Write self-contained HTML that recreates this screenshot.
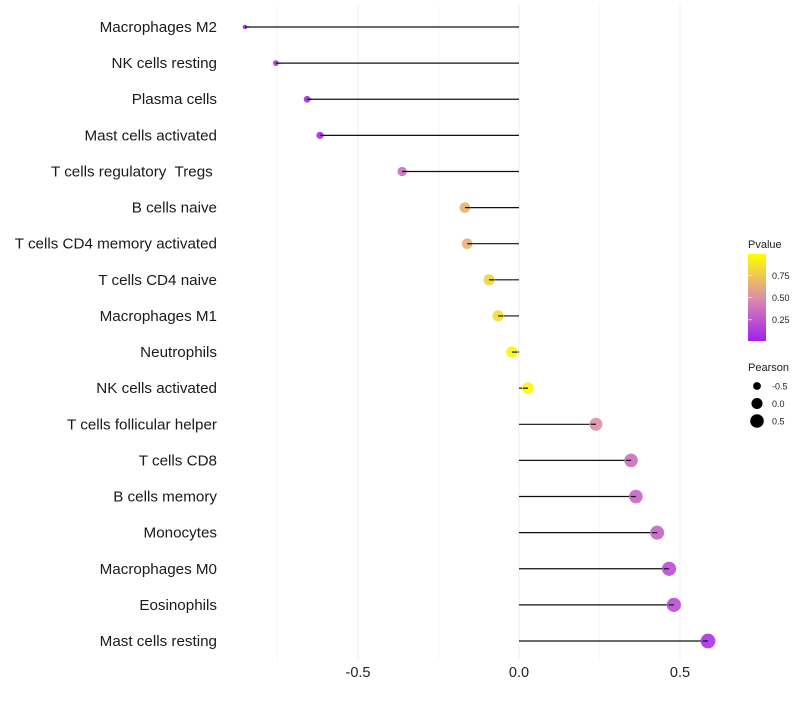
<!DOCTYPE html>
<html><head><meta charset="utf-8"><style>
body{margin:0;background:#fff;font-family:"Liberation Sans",sans-serif}
text{white-space:pre}
</style></head><body>
<svg id="c" width="800" height="700" xmlns="http://www.w3.org/2000/svg">
<defs><linearGradient id="g" x1="0" y1="1" x2="0" y2="0">
<stop offset="0" stop-color="#A020F0"/><stop offset="0.5" stop-color="#DD8FA8"/><stop offset="1" stop-color="#FFFF00"/></linearGradient></defs>
</svg>
<script>
const categories=["Macrophages M2","NK cells resting","Plasma cells","Mast cells activated","T cells regulatory  Tregs ","B cells naive","T cells CD4 memory activated","T cells CD4 naive","Macrophages M1","Neutrophils","NK cells activated","T cells follicular helper","T cells CD8","B cells memory","Monocytes","Macrophages M0","Eosinophils","Mast cells resting"];
const pearson=[-0.851,-0.755,-0.658,-0.618,-0.363,-0.168,-0.161,-0.093,-0.065,-0.022,0.028,0.239,0.348,0.363,0.429,0.466,0.481,0.587];
const pvalue=[0.02,0.05,0.05,0.05,0.35,0.65,0.65,0.8,0.85,0.95,0.97,0.5,0.35,0.3,0.3,0.2,0.2,0.08];
const xTicks=[-0.5,0,0.5];
const pTicks=[0.25,0.5,0.75];
const sizeTicks=[-0.5,0,0.5];
const svg=document.getElementById('c');const NS="http://www.w3.org/2000/svg";
const x=v=>519+v*322;
const y=i=>27+i*(641-27)/(categories.length-1);
const r=v=>Math.sqrt(Math.max(1,34+34*v));
function lerp(a,b,t){return a.map((c,i)=>Math.round(c+(b[i]-c)*t));}
function col(p){const s=[[160,32,240],[221,143,168],[255,255,0]];const c=p<0.5?lerp(s[0],s[1],p/0.5):lerp(s[1],s[2],(p-0.5)/0.5);return `rgb(${c})`;}
function el(t,a,p){const e=document.createElementNS(NS,t);for(const k in a)e.setAttribute(k,a[k]);(p||svg).appendChild(e);return e;}
[-0.75,-0.25,0.25].forEach(v=>{const l=el('line',{x1:x(v),x2:x(v),y1:5,y2:660,stroke:'#f6f6f6','stroke-width':1});

});
xTicks.forEach(v=>{const l=el('line',{x1:x(v),x2:x(v),y1:5,y2:660,stroke:'#eeeeee','stroke-width':1});


const t=el('text',{x:x(v),y:677,'text-anchor':'middle','font-size':14.5,fill:'#222'});t.textContent=v===0?'0.0':v.toFixed(1);

});
categories.forEach((c,i)=>{
const t=el('text',{x:217,y:y(i)+5,'text-anchor':'end','font-size':15.2,fill:'#1a1a1a'});t.textContent=c;


const l=el('line',{x1:x(0),x2:x(pearson[i]),y1:y(i),y2:y(i),stroke:'#111','stroke-width':1.2});


const d=el('circle',{cx:x(pearson[i]),cy:y(i),r:r(pearson[i]),fill:col(pvalue[i]),'fill-opacity':0.9});


const l2=el('line',{x1:x(pearson[i]),x2:x(pearson[i])+(pearson[i]<0?5:-5),y1:y(i),y2:y(i),stroke:'#111','stroke-width':1.2});


});
const lt=el('text',{x:748,y:248,'font-size':11,fill:'#222'});lt.textContent='Pvalue';


const bar=el('rect',{x:748,y:254,width:18,height:87,fill:'url(#g)'});


pTicks.forEach(p=>{const yy=341-87*(p-0.01)/0.98;
const t=el('text',{x:772,y:yy+3.5,'font-size':9,fill:'#222'});t.textContent=p.toFixed(2);


const tk=el('line',{x1:748,x2:752,y1:yy,y2:yy,stroke:'#fff','stroke-opacity':0.6});

});
const st=el('text',{x:748,y:371,'font-size':11,fill:'#222'});st.textContent='Pearson';


sizeTicks.forEach((v,i)=>{const yy=386+i*17.5;
const c=el('circle',{cx:757,cy:yy,r:r(v)*0.95,fill:'#000'});


const t=el('text',{x:772,y:yy+3.5,'font-size':9,fill:'#222'});t.textContent=v===0?'0.0':v.toFixed(1);

});
</script>
</body></html>
